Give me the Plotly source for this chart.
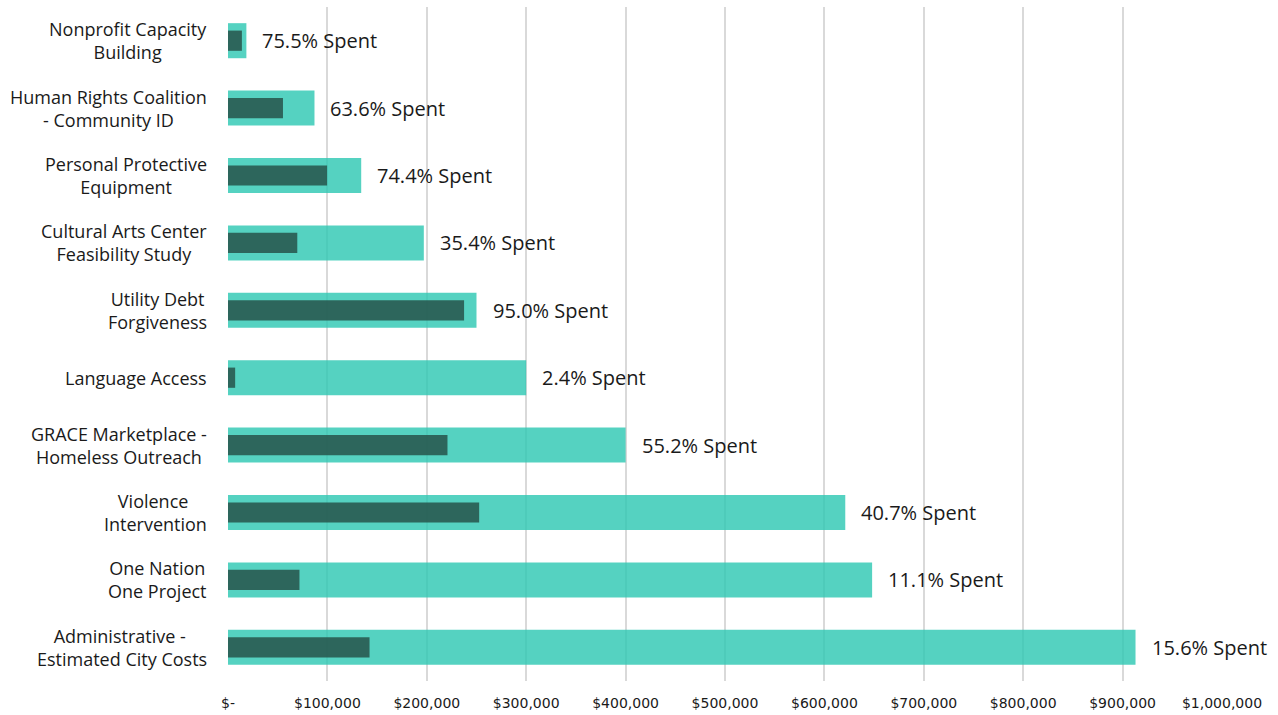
import plotly.graph_objects as go

categories = [
    "Nonprofit Capacity<br>Building",
    "Human Rights Coalition<br>- Community ID",
    "Personal Protective<br>Equipment",
    "Cultural Arts Center<br>Feasibility Study",
    "Utility Debt<br>Forgiveness",
    "Language Access",
    "GRACE Marketplace -<br>Homeless Outreach",
    "Violence <br>Intervention",
    "One Nation<br>One Project",
    "Administrative - <br>Estimated City Costs",
]
budget = [18500, 87000, 134000, 197000, 250000, 300000, 400000, 621000, 648000, 913000]
spent = [13970, 55300, 99700, 69700, 237500, 7200, 220800, 252700, 71900, 142400]
pct_labels = ["75.5% Spent", "63.6% Spent", "74.4% Spent", "35.4% Spent", "95.0% Spent",
              "2.4% Spent", "55.2% Spent", "40.7% Spent", "11.1% Spent", "15.6% Spent"]
tick_vals = [0, 100000, 200000, 300000, 400000, 500000, 600000, 700000, 800000, 900000, 1000000]
tick_text = ["$-", "$100,000", "$200,000", "$300,000", "$400,000", "$500,000",
             "$600,000", "$700,000", "$800,000", "$900,000", "$1,000,000"]

fig = go.Figure()
fig.add_trace(go.Bar(
    y=categories, x=budget, orientation="h", width=0.52,
    marker=dict(color="rgba(43,199,178,0.8)", line=dict(width=0)),
    name="Budget", hoverinfo="x+y",
))
fig.add_trace(go.Bar(
    y=categories, x=spent, orientation="h", width=0.30,
    marker=dict(color="rgba(39,84,74,0.85)", line=dict(width=0)),
    name="Spent", hoverinfo="x+y",
))

annotations = []
for c, b, t in zip(categories, budget, pct_labels):
    annotations.append(dict(
        x=b, y=c, xref="x", yref="y", text=t, showarrow=False,
        xanchor="left", xshift=14,
        font=dict(family="Open Sans", size=20, color="#1a1a1a"),
    ))
    annotations.append(dict(
        x=0, y=c, xref="paper", yref="y", text=c, showarrow=False,
        xanchor="right", xshift=-19, align="center",
        font=dict(family="Open Sans", size=18, color="#1a1a1a"),
    ))

fig.update_layout(
    width=1278, height=715,
    barmode="overlay",
    showlegend=False,
    plot_bgcolor="white", paper_bgcolor="white",
    margin=dict(l=228, r=56, t=7, b=34, autoexpand=False),
    annotations=annotations,
    xaxis=dict(
        range=[0, 1000000], tickvals=tick_vals, ticktext=tick_text,
        showgrid=True, gridcolor="#d9d9d9", gridwidth=2,
        zeroline=False, showline=False, layer="above traces",
        tickfont=dict(family="DejaVu Sans", size=14, color="#1a1a1a"),
        ticklabelstandoff=12, automargin=False,
    ),
    yaxis=dict(
        autorange="reversed", showticklabels=False, showgrid=False,
        zeroline=False, showline=False, automargin=False,
    ),
)

fig.write_html(
    "out.html",
    config={"displayModeBar": False},
    post_script="document.body.style.margin='0';document.body.style.overflow='hidden';",
)
